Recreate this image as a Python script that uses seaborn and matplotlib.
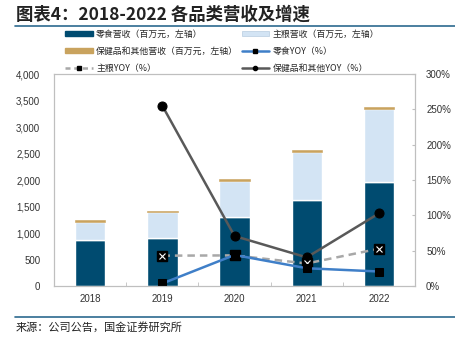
import numpy as np
import pandas as pd
import seaborn as sns
import matplotlib.pyplot as plt
from matplotlib.lines import Line2D
from matplotlib.patches import Patch

years = ['2018', '2019', '2020', '2021', '2022']
snack_rev = [872, 900, 1296, 1623, 1957]
staple_rev = [334, 488, 680, 902, 1380]
health_rev = [36, 30, 36, 43, 50]
snack_yoy = [None, 3.7, 44.0, 25.2, 20.6]
staple_yoy = [None, 43.0, 43.4, 32.0, 52.8]
health_yoy = [None, 255.0, 70.8, 40.6, 102.8]

c_snack = '#004B70'
c_staple = '#D3E4F4'
c_health = '#C9A35E'
c_snack_l = '#3F7FC8'
c_staple_l = '#A8A8A8'
c_health_l = '#595959'

sns.set_style('white')
plt.rcParams['font.family'] = ['Liberation Sans', 'Noto Sans CJK SC', 'DejaVu Sans']

df = pd.DataFrame({'year': years, 'snack': snack_rev, 'staple': staple_rev, 'health': health_rev})
df['b2'] = df['snack'] + df['staple']

fig = plt.figure(figsize=(4.55, 3.51), dpi=100)
ax = fig.add_axes([0.119, 0.185, 0.793, 0.604])

w = 0.42
sns.barplot(data=df, x='year', y='snack', color=c_snack, width=w, ax=ax, saturation=1)
sns.barplot(data=df, x='year', y='staple', bottom=df['snack'], color=c_staple, width=w, ax=ax, saturation=1)
sns.barplot(data=df, x='year', y='health', bottom=df['b2'], color=c_health, width=w, ax=ax,
            saturation=1, edgecolor=c_health, linewidth=0.4)
ax.set_ylim(0, 4000)
ax.set_xlim(-0.5, 4.5)
ax.set_yticks(range(0, 4001, 500))
ax.set_yticklabels([f'{v:,}' for v in range(0, 4001, 500)])
ax.set_xlabel('')
ax.set_ylabel('')
ax.set_xticks(np.arange(len(years)))
ax.set_xticklabels(years)
ax.set_xticks(np.arange(len(years) + 1) - 0.5, minor=True)
ax.tick_params(axis='x', which='major', length=0, labelsize=7, colors='#333333', pad=6)
ax.tick_params(axis='x', which='minor', length=3, direction='in', color='#BFBFBF', bottom=True)
ax.tick_params(axis='y', length=0, labelsize=7, colors='#333333', pad=10)

ax2 = ax.twinx()
xs = np.arange(len(years))
yoy = pd.DataFrame({'x': xs, 'snack': snack_yoy, 'staple': staple_yoy, 'health': health_yoy}).dropna()
sns.lineplot(data=yoy, x='x', y='health', color=c_health_l, lw=1.8, marker='o', ms=6.5,
             mfc='black', mec='black', ax=ax2)
sns.lineplot(data=yoy, x='x', y='staple', color=c_staple_l, lw=1.8, ls=(0, (3, 2)), ax=ax2)
ax2.plot(yoy['x'], yoy['staple'], ls='none', marker='s', ms=6.5, mfc='black', mec='black')
ax2.plot(yoy['x'], yoy['staple'], ls='none', marker='x', ms=5, mec='white', mew=0.8)
sns.lineplot(data=yoy, x='x', y='snack', color=c_snack_l, lw=1.8, marker='s', ms=6,
             mfc='black', mec='black', ax=ax2)
ax2.set_ylim(0, 300)
ax2.set_xlim(-0.5, 4.5)
ax2.set_yticks(range(0, 301, 50))
ax2.set_yticklabels([f'{v}%' for v in range(0, 301, 50)])
ax2.set_ylabel('')
ax2.tick_params(axis='y', length=2, direction='in', color='#BFBFBF', labelsize=7,
                labelcolor='#333333', pad=8)

for a in (ax, ax2):
    for s in a.spines.values():
        s.set_color('#BFBFBF')
        s.set_linewidth(0.8)

handles = [
    Patch(color=c_snack), Patch(facecolor=c_staple, edgecolor='#B8CDE0', lw=0.5),
    Patch(color=c_health),
    Line2D([], [], color=c_snack_l, lw=1.8, marker='s', ms=3, mfc='black', mec='black'),
    Line2D([], [], color=c_staple_l, lw=1.8, ls=(0, (2, 1.5)), marker='s', ms=3.5, mfc='black', mec='black'),
    Line2D([], [], color=c_health_l, lw=1.8, marker='o', ms=3, mfc='black', mec='black'),
]
labels = ['零食营收（百万元，左轴）', '主粮营收（百万元，左轴）', '保健品和其他营收（百万元，左轴）',
          '零食YOY（%）', '主粮YOY（%）', '保健品和其他YOY（%）']
# row-major reading order in a column-first legend
order = [0, 2, 4, 1, 3, 5]
fig.legend([handles[i] for i in order], [labels[i] for i in order], ncol=2,
           loc='upper left', bbox_to_anchor=(0.135, 0.926), frameon=False,
           handlelength=3.1, handleheight=0.6, columnspacing=0.4,
           labelspacing=0.92, handletextpad=0.4, borderaxespad=0,
           prop={'family': ['Noto Sans CJK SC'], 'size': 6.4})

fig.text(0.035, 0.957, '图表4：2018-2022 各品类营收及增速', fontsize=12.5, fontweight='bold',
         color='#222222', family=['Noto Sans CJK SC'], va='center')
fig.add_artist(Line2D([0.033, 1.0], [0.927, 0.927], color='#2C6A8F', lw=1.2))
fig.add_artist(Line2D([0.033, 1.0], [0.097, 0.097], color='#2C6A8F', lw=1.2))
fig.text(0.035, 0.068, '来源：公司公告，国金证券研究所', fontsize=8, color='#222222',
         family=['Noto Sans CJK SC'], va='center')

fig.savefig('out.png', dpi=100)
